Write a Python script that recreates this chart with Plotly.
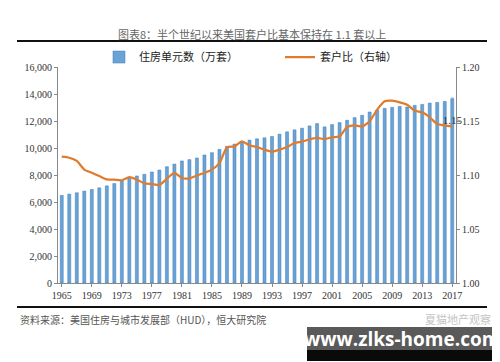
import plotly.graph_objects as go

years = list(range(1965, 2018))
units = [6489, 6586, 6684, 6806, 6928, 7050, 7196, 7367, 7587, 7831,
         7929, 8051, 8222, 8368, 8613, 8808, 9040, 9138, 9261, 9482,
         9653, 9898, 10118, 10290, 10437, 10584, 10682, 10755, 10853, 11025,
         11196, 11343, 11466, 11637, 11809, 11564, 11735, 11882, 12054, 12250,
         12422, 12667, 12813, 12936, 13010, 13083, 13040, 13157, 13230, 13328,
         13377, 13450, 13657]
ratio = [1.117, 1.116, 1.113, 1.105, 1.102, 1.099, 1.096, 1.0957, 1.0951, 1.098,
         1.0957, 1.0923, 1.0917, 1.0907, 1.0966, 1.102, 1.0972, 1.0969, 1.0994, 1.102,
         1.105, 1.111, 1.1256, 1.1265, 1.1312, 1.1275, 1.1259, 1.1234, 1.1216, 1.1234,
         1.1259, 1.1296, 1.1309, 1.1330, 1.1343, 1.1333, 1.1349, 1.1358, 1.1444, 1.146,
         1.1448, 1.1497, 1.1605, 1.1682, 1.1688, 1.1673, 1.1651, 1.1596, 1.158, 1.1534,
         1.1472, 1.146, 1.1451]
bar_name = "住房单元数（万套）"
line_name = "套户比（右轴）"
title = "图表8：半个世纪以来美国套户比基本保持在 1.1 套以上"
source = "资料来源：美国住房与城市发展部（HUD），恒大研究院"
bar_labels = [""] * (len(years) - 1) + ["13657"]
line_labels = [""] * (len(years) - 1) + ["1.15"]

serif = "Liberation Serif"
cjk = "Noto Sans CJK SC"

fig = go.Figure()
fig.add_trace(go.Bar(
    x=years, y=units, name=bar_name, width=0.4,
    marker=dict(color="#6aa3d6", line=dict(color="#3f7cb8", width=0.5)),
    text=bar_labels, textposition="outside", cliponaxis=False,
    textfont=dict(family=serif, size=11, color="#333333"),
))
fig.add_trace(go.Scatter(
    x=years, y=ratio, name=line_name, yaxis="y2", mode="lines+text",
    line=dict(color="#e07b2c", width=2.2, shape="spline", smoothing=0.6),
    text=line_labels, textposition="top center", cliponaxis=False,
    textfont=dict(family=serif, size=11, color="#333333"),
))

fig.update_layout(
    width=500, height=362,
    margin=dict(l=50, r=52, t=59, b=87),
    paper_bgcolor="white", plot_bgcolor="white",
    font=dict(family=serif, size=10, color="#333333"),
    showlegend=True,
    legend=dict(orientation="h", x=0.103, y=1.046, xanchor="left", yanchor="middle",
                font=dict(family=cjk, size=11, color="#222222"),
                entrywidth=136, entrywidthmode="pixels",
                bgcolor="rgba(0,0,0,0)"),
    xaxis=dict(range=[1964.5, 2017.5], tick0=1965, dtick=4, showgrid=False,
               showline=True, linecolor="#888888", linewidth=1,
               ticks="outside", ticklen=3, tickcolor="#888888",
               tickfont=dict(family=serif, size=10, color="#333333"), zeroline=False),
    yaxis=dict(range=[0, 16000], dtick=2000, tickformat=",", showgrid=False,
               showline=True, linecolor="#888888", linewidth=1,
               ticks="outside", ticklen=3, tickcolor="#888888",
               tickfont=dict(family=serif, size=10, color="#333333"), zeroline=False),
    yaxis2=dict(range=[1.0, 1.2], dtick=0.05, tickformat=".2f", overlaying="y", side="right",
                showgrid=False, showline=True, linecolor="#888888", linewidth=1,
                ticks="outside", ticklen=3, tickcolor="#888888",
                tickfont=dict(family=serif, size=10, color="#333333"), zeroline=False),
)

def px_x(p):
    return (p - 50) / 398

def px_y(p):
    return (275 - p) / 216

shapes = [
    dict(type="line", xref="paper", yref="paper", x0=px_x(9), x1=px_x(479),
         y0=px_y(33), y1=px_y(33), line=dict(color="#111111", width=2)),
    dict(type="line", xref="paper", yref="paper", x0=px_x(9), x1=px_x(479),
         y0=px_y(299), y1=px_y(299), line=dict(color="#111111", width=2)),
    dict(type="rect", xref="paper", yref="paper", x0=px_x(299), x1=px_x(491),
         y0=px_y(342), y1=px_y(319), line=dict(width=0), fillcolor="#5a5a5a"),
    dict(type="rect", xref="paper", yref="paper", x0=px_x(299), x1=px_x(491),
         y0=px_y(353), y1=px_y(342), line=dict(width=0), fillcolor="#0a0a0a"),
]
fig.update_layout(shapes=shapes)

fig.add_annotation(text=title, xref="paper", yref="paper", x=px_x(244), y=px_y(26),
                   showarrow=False, xanchor="center", yanchor="middle",
                   font=dict(family=cjk, size=11, color="#666666"))
fig.add_annotation(text=source, xref="paper", yref="paper", x=px_x(10), y=px_y(311),
                   showarrow=False, xanchor="left", yanchor="middle",
                   font=dict(family=cjk, size=10, color="#555555"))
fig.add_annotation(text="夏猫地产观察", xref="paper", yref="paper", x=px_x(485), y=px_y(311),
                   showarrow=False, xanchor="right", yanchor="middle",
                   font=dict(family=cjk, size=11, color="#c4c4c4"))
fig.add_annotation(text="<b>www.zlks-home.com</b>", xref="paper", yref="paper",
                   x=px_x(394), y=px_y(331), showarrow=False, xanchor="center", yanchor="middle",
                   font=dict(family="Open Sans", size=19, color="white"))

fig.write_html("out.html")
